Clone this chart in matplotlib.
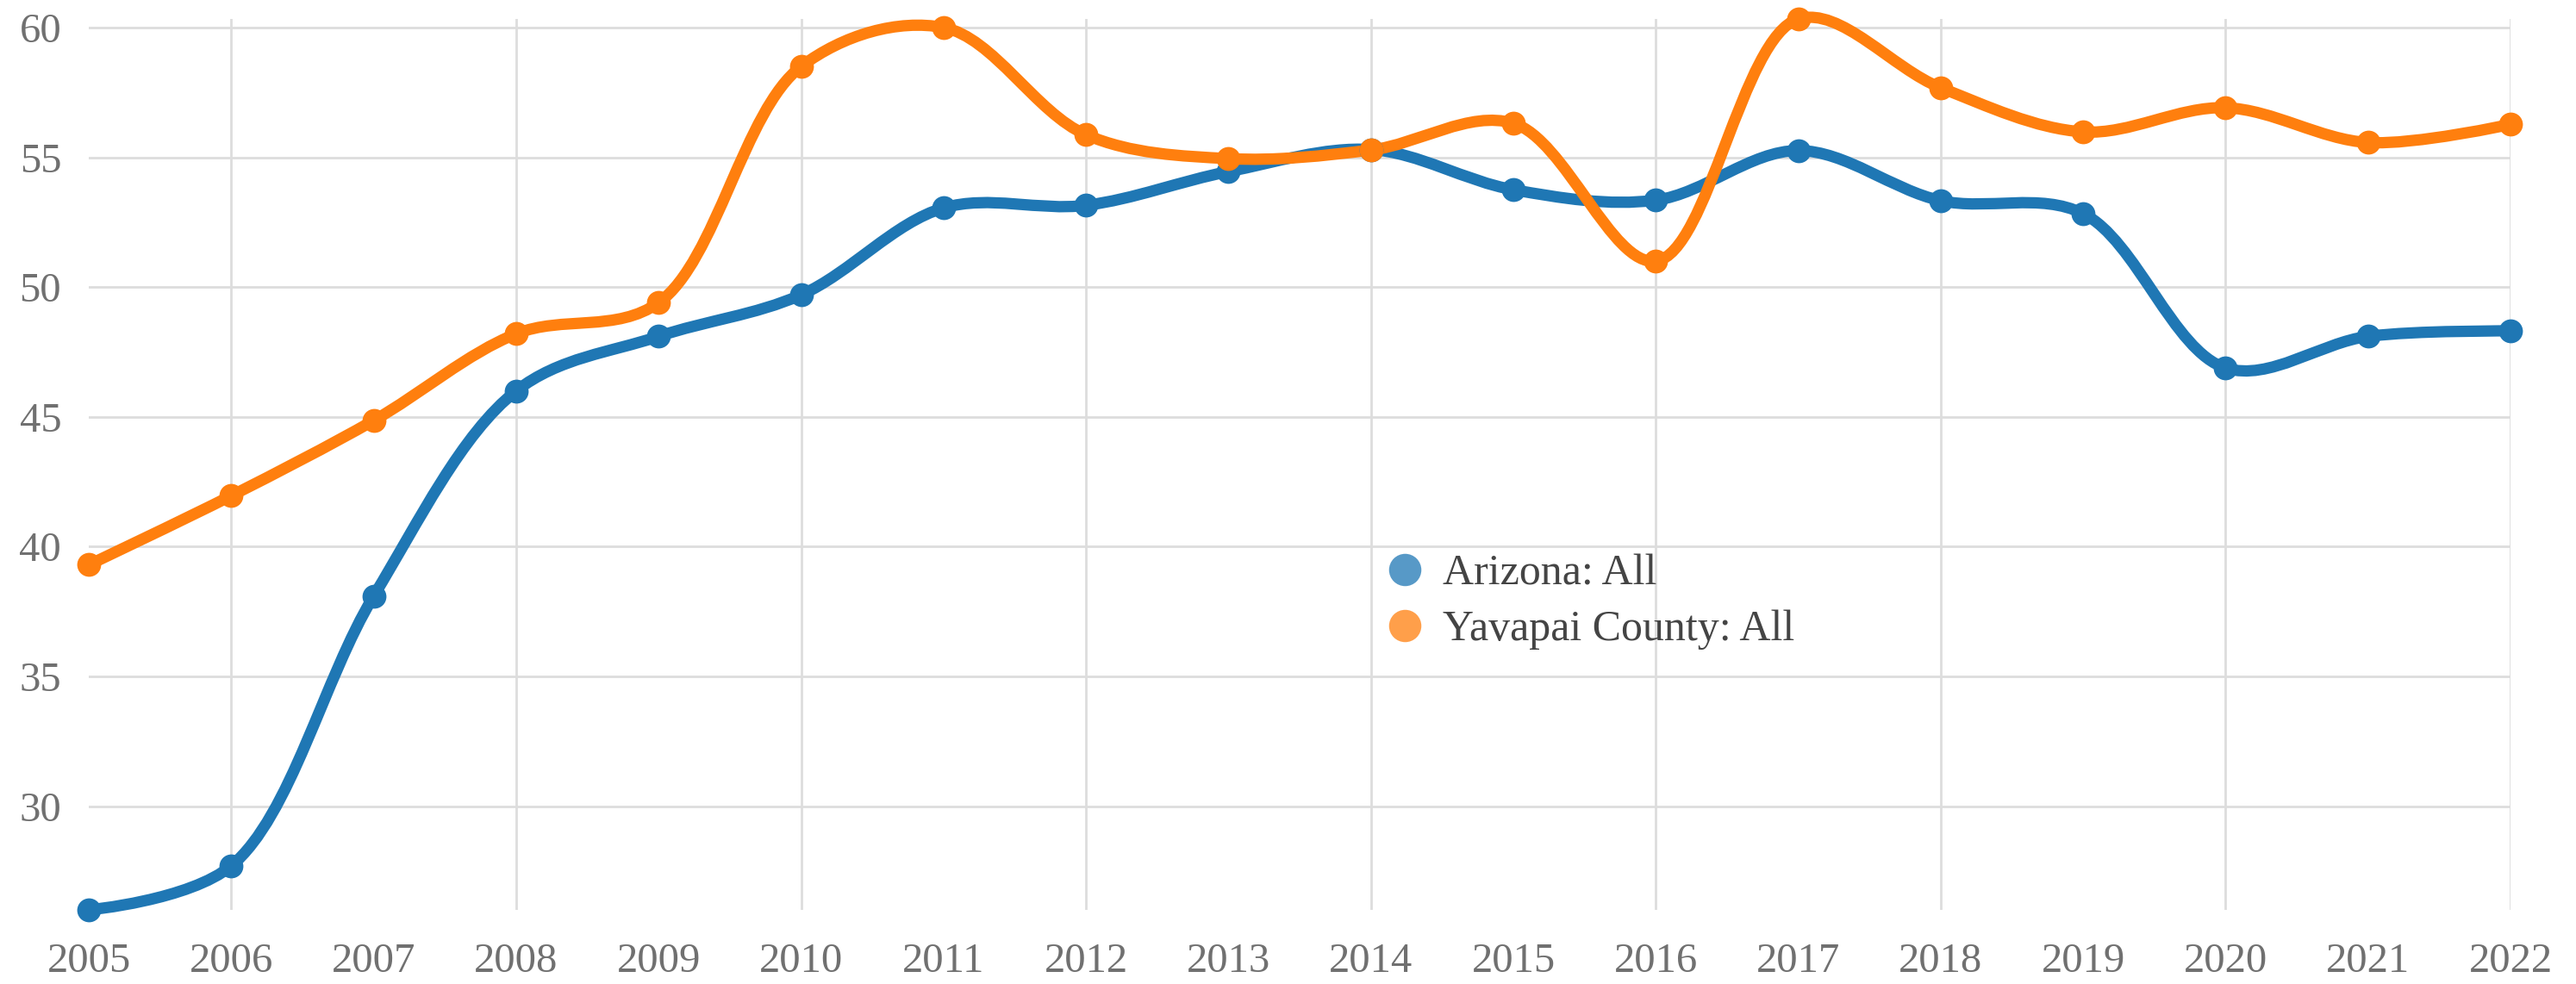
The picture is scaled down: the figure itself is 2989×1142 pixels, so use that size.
import numpy as np
import matplotlib
matplotlib.use("Agg")
import matplotlib.pyplot as plt
from matplotlib.path import Path
from matplotlib.patches import PathPatch
from matplotlib.lines import Line2D

years = list(range(2005, 2023))
arizona = [26.0, 27.7, 38.1, 46.0, 48.1, 49.7, 53.05, 53.15, 54.45, 55.3,
           53.75, 53.35, 55.26, 53.33, 52.83, 46.88, 48.1, 48.31]
yavapai = [39.3, 41.96, 44.86, 48.2, 49.4, 58.5, 60.0, 55.87, 54.95, 55.28,
           56.31, 51.0, 60.33, 57.68, 55.98, 56.91, 55.57, 56.27]
series_names = ["Arizona: All", "Yavapai County: All"]
colors = ["#1f77b4", "#ff7f0e"]
legend_colors = ["#5799c7", "#ff9f4a"]
y_ticks = [30, 35, 40, 45, 50, 55, 60]
x_grid = list(range(2006, 2023, 2))

plt.rcParams['font.family'] = ['Liberation Serif', 'DejaVu Serif']

fig = plt.figure(figsize=(29.89, 11.42), dpi=100)
ax = fig.add_axes([0.0345, 0.0753, 0.9401, 0.9054])

all_vals = arizona + yavapai
ax.set_xlim(years[0], years[-1])
ax.set_ylim(min(all_vals), max(all_vals))


def catmull_rom_path(xs, ys, alpha=0.5):
    """Centripetal Catmull-Rom (d3 curveCatmullRom) computed in screen space."""
    data = np.column_stack([xs, ys]).astype(float)
    P = ax.transData.transform(data)
    n = len(P)
    verts = [P[0]]
    codes = [Path.MOVETO]
    eps = 1e-12
    for i in range(n - 1):
        p1, p2 = P[i], P[i + 1]
        c1 = p1.copy()
        c2 = p2.copy()
        l12 = np.hypot(*(p2 - p1))
        l12_a, l12_2a = l12 ** alpha, l12 ** (2 * alpha)
        if i > 0:
            p0 = P[i - 1]
            l01 = np.hypot(*(p1 - p0))
            l01_a, l01_2a = l01 ** alpha, l01 ** (2 * alpha)
            if l01_a > eps:
                a = 2 * l01_2a + 3 * l01_a * l12_a + l12_2a
                nn = 3 * l01_a * (l01_a + l12_a)
                c1 = (p1 * a - p0 * l12_2a + p2 * l01_2a) / nn
        if i + 2 < n:
            p3 = P[i + 2]
            l23 = np.hypot(*(p3 - p2))
            l23_a, l23_2a = l23 ** alpha, l23 ** (2 * alpha)
            if l23_a > eps:
                b = 2 * l23_2a + 3 * l23_a * l12_a + l12_2a
                m = 3 * l23_a * (l23_a + l12_a)
                c2 = (p2 * b + p1 * l23_2a - p3 * l12_2a) / m
        verts += [c1, c2, p2]
        codes += [Path.CURVE4] * 3
    verts = ax.transData.inverted().transform(np.array(verts))
    return Path(verts, codes)


for vals, col in zip([arizona, yavapai], colors):
    patch = PathPatch(catmull_rom_path(years, vals), facecolor='none', edgecolor=col,
                      lw=9.5, capstyle='round', joinstyle='round', zorder=3,
                      clip_on=False)
    ax.add_patch(patch)
    ax.plot(years, vals, linestyle='none', marker='o', markersize=20,
            color=col, markeredgewidth=0, zorder=4, clip_on=False)

ax.set_yticks(y_ticks)
ax.set_xticks(years)
ax.set_xticklabels([str(y) for y in years])
ax.tick_params(axis='both', length=0, labelsize=35, labelcolor='#707070')
ax.tick_params(axis='y', pad=23)
ax.tick_params(axis='x', pad=27)

for y in y_ticks:
    ax.axhline(y, color='#dddddd', lw=2, zorder=1)
for x in x_grid:
    ax.axvline(x, color='#dddddd', lw=2, zorder=1)

for s in ax.spines.values():
    s.set_visible(False)

handles = [Line2D([], [], linestyle='none', marker='o', markersize=27,
                  color=c, markeredgewidth=0) for c in legend_colors]
leg = ax.legend(handles, series_names, loc='center left',
                bbox_to_anchor=(0.5345, 0.3456), frameon=False, fontsize=36,
                borderpad=0, handlelength=1.0, handletextpad=0.38,
                labelspacing=0.36, borderaxespad=0)
for t in leg.get_texts():
    t.set_color('#444444')

fig.savefig("out.png", dpi=100, facecolor='white')
